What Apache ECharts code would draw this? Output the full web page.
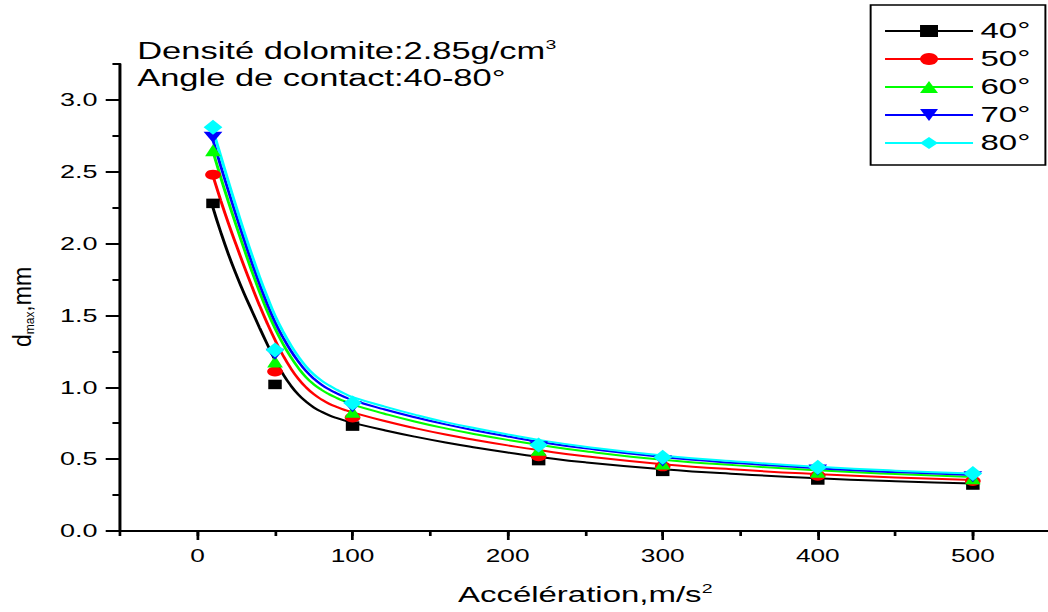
<!DOCTYPE html>
<html><head><meta charset="utf-8">
<script src="https://cdn.jsdelivr.net/npm/echarts@6/dist/echarts.min.js"></script>
<style>
html,body{margin:0;padding:0;background:#fff;overflow:hidden;width:1048px;height:612px}
#c{width:699px;height:612px;transform:scaleX(1.49928);transform-origin:0 0;}
</style></head><body><div id="c"></div>
<script>
// ---- data ----
const seriesNames = ['40°', '50°', '60°', '70°', '80°'];
const pointX = [10, 50, 100, 220, 300, 400, 500];
const points40 = [2.28, 1.02, 0.73, 0.49, 0.415, 0.355, 0.32];
const points50 = [2.48, 1.11, 0.79, 0.52, 0.45, 0.385, 0.348];
const points60 = [2.65, 1.18, 0.83, 0.565, 0.47, 0.413, 0.367];
const points70 = [2.74, 1.23, 0.865, 0.587, 0.487, 0.424, 0.378];
const points80 = [2.81, 1.26, 0.89, 0.598, 0.513, 0.443, 0.401];

const curveX = [10, 15, 20, 25, 30, 35, 40, 45, 50, 55, 60, 65, 70, 75, 80, 85, 90, 95, 100, 120, 140, 160, 180, 200, 220, 250, 300, 350, 400, 450, 500];
const curve40 = [2.25, 2.08, 1.925, 1.785, 1.655, 1.535, 1.415, 1.30, 1.19, 1.095, 1.015, 0.95, 0.90, 0.86, 0.83, 0.805, 0.785, 0.768, 0.753, 0.703, 0.657, 0.616, 0.58, 0.547, 0.517, 0.478, 0.43, 0.395, 0.367, 0.346, 0.33];
const curve50 = [2.47, 2.30, 2.14, 1.99, 1.845, 1.705, 1.57, 1.445, 1.33, 1.225, 1.135, 1.06, 1.00, 0.952, 0.915, 0.885, 0.862, 0.842, 0.825, 0.767, 0.716, 0.671, 0.632, 0.596, 0.563, 0.52, 0.465, 0.426, 0.396, 0.372, 0.355];
const curve60 = [2.64, 2.46, 2.29, 2.125, 1.965, 1.81, 1.665, 1.53, 1.41, 1.305, 1.213, 1.135, 1.07, 1.02, 0.982, 0.951, 0.925, 0.902, 0.88, 0.818, 0.762, 0.714, 0.672, 0.634, 0.60, 0.555, 0.496, 0.455, 0.422, 0.396, 0.375];
const curve70 = [2.72, 2.54, 2.365, 2.195, 2.03, 1.87, 1.72, 1.58, 1.455, 1.35, 1.258, 1.18, 1.113, 1.06, 1.018, 0.985, 0.957, 0.932, 0.91, 0.848, 0.792, 0.742, 0.698, 0.658, 0.621, 0.575, 0.515, 0.471, 0.436, 0.41, 0.39];
const curve80 = [2.79, 2.61, 2.43, 2.255, 2.085, 1.925, 1.77, 1.63, 1.50, 1.392, 1.297, 1.215, 1.145, 1.09, 1.047, 1.012, 0.982, 0.955, 0.932, 0.868, 0.81, 0.758, 0.713, 0.672, 0.634, 0.587, 0.526, 0.482, 0.447, 0.42, 0.40];

const xTickLabels = [0, 100, 200, 300, 400, 500];
const yTickLabels = [0, 0.5, 1.0, 1.5, 2.0, 2.5, 3.0];

// ---- styling ----
const FONT = 'Liberation Sans, Arial, Helvetica, sans-serif';
const colors = ['#000000', '#ff0000', '#00ff00', '#0000ff', '#00ffff'];
const symbols = ['rect', 'circle', 'triangle', 'path://M0,0L10,0L5,10Z', 'diamond'];
const symbolSizes = [[9, 9.5], [10.5, 10], [10.5, 12], [12.5, 11], [12.5, 15]];
const allPoints = [points40, points50, points60, points70, points80];
const allCurves = [curve40, curve50, curve60, curve70, curve80];

const series = [];
seriesNames.forEach((name, k) => {
  series.push({
    type: 'line', name: name,
    data: curveX.map((x, i) => [x, allCurves[k][i]]),
    symbol: symbols[k], showSymbol: false, smooth: 0.5,
    lineStyle: { color: colors[k], width: 2 },
    itemStyle: { color: colors[k] },
    xAxisIndex: 0, yAxisIndex: 0, z: 2, silent: true
  });
});
seriesNames.forEach((name, k) => {
  series.push({
    type: 'scatter', name: name,
    data: pointX.map((x, i) => [x, allPoints[k][i]]),
    symbol: symbols[k], symbolSize: symbolSizes[k],
    itemStyle: { color: colors[k], opacity: 1 },
    xAxisIndex: 0, yAxisIndex: 0, z: 3, silent: true
  });
});

const axisLineStyle = { color: '#000', width: 2 };
const chart = echarts.init(document.getElementById('c'), null, { renderer: 'svg' });
chart.setOption({
  animation: false,
  backgroundColor: '#fff',
  grid: { left: 80, top: 64, width: 620.6, height: 467, containLabel: false, outerBoundsMode: 'none' },
  legend: {
    data: seriesNames, orient: 'vertical', left: 580.7, top: 5,
    padding: [15, 10, 11, 8.6], itemWidth: 58.7, itemHeight: 15, itemGap: 6,
    borderColor: '#000', borderWidth: 1.3, borderRadius: 0, backgroundColor: '#fff',
    selectedMode: false,
    textStyle: { fontSize: 22, color: '#000', fontFamily: FONT }
  },
  xAxis: [
    {
      type: 'value', min: -50, max: 550, interval: 50, position: 'bottom',
      axisLine: { show: true, onZero: false, lineStyle: axisLineStyle },
      axisTick: { show: true, length: 5, lineStyle: { color: '#000', width: 1.8 } },
      axisLabel: { show: false }, splitLine: { show: false }
    },
    {
      type: 'value', min: -50, max: 550, position: 'bottom',
      axisLine: { show: false, onZero: false },
      axisTick: { show: true, customValues: xTickLabels, length: 9, lineStyle: { color: '#000', width: 1.8 } },
      axisLabel: { show: true, customValues: xTickLabels, margin: 16, fontSize: 17.5, color: '#000', fontFamily: FONT },
      splitLine: { show: false },
      name: '{a|Accélération,m/s}{s|2}', nameLocation: 'middle', nameGap: 51,
      nameTextStyle: {
        fontFamily: FONT, color: '#000',
        rich: {
          a: { fontSize: 22, lineHeight: 26, color: '#000', fontFamily: FONT },
          s: { fontSize: 13, verticalAlign: 'top', color: '#000', fontFamily: FONT }
        }
      }
    }
  ],
  yAxis: [
    {
      type: 'value', min: 0, max: 3.25, interval: 0.25, position: 'left',
      axisLine: { show: true, onZero: false, lineStyle: axisLineStyle },
      axisTick: { show: true, length: 5, lineStyle: { color: '#000', width: 2 } },
      axisLabel: { show: false }, splitLine: { show: false }
    },
    {
      type: 'value', min: 0, max: 3.25, position: 'left',
      axisLine: { show: false, onZero: false },
      axisTick: { show: true, customValues: yTickLabels, length: 9.5, lineStyle: { color: '#000', width: 2 } },
      axisLabel: { show: true, customValues: yTickLabels, formatter: v => v.toFixed(1), margin: 15, fontSize: 18, color: '#000', fontFamily: FONT },
      splitLine: { show: false }
    }
  ],
  graphic: [
    {
      type: 'text', x: 91.5, y: 51, silent: true,
      style: {
        text: '{a|Densité dolomite:2.85g/cm}{s|3}', verticalAlign: 'middle', align: 'left', fill: '#000',
        rich: {
          a: { fontSize: 23, lineHeight: 25, fontFamily: FONT, fill: '#000' },
          s: { fontSize: 13, verticalAlign: 'top', fontFamily: FONT, fill: '#000' }
        }
      }
    },
    {
      type: 'text', x: 91.5, y: 78, silent: true,
      style: { text: 'Angle de contact:40-80°', fontSize: 23, fontFamily: FONT, fill: '#000', verticalAlign: 'middle', align: 'left' }
    },
    {
      type: 'text', x: 15, y: 307, rotation: Math.PI / 2, scaleY: 0.75, silent: true,
      style: {
        text: '{a|d}{b|max}{a|,mm}', align: 'center', verticalAlign: 'middle', fill: '#000',
        rich: {
          a: { fontSize: 23, lineHeight: 24, fontFamily: FONT, fill: '#000' },
          b: { fontSize: 12, verticalAlign: 'bottom', fontFamily: FONT, fill: '#000' }
        }
      }
    }
  ],
  series: series
});
</script></body></html>
